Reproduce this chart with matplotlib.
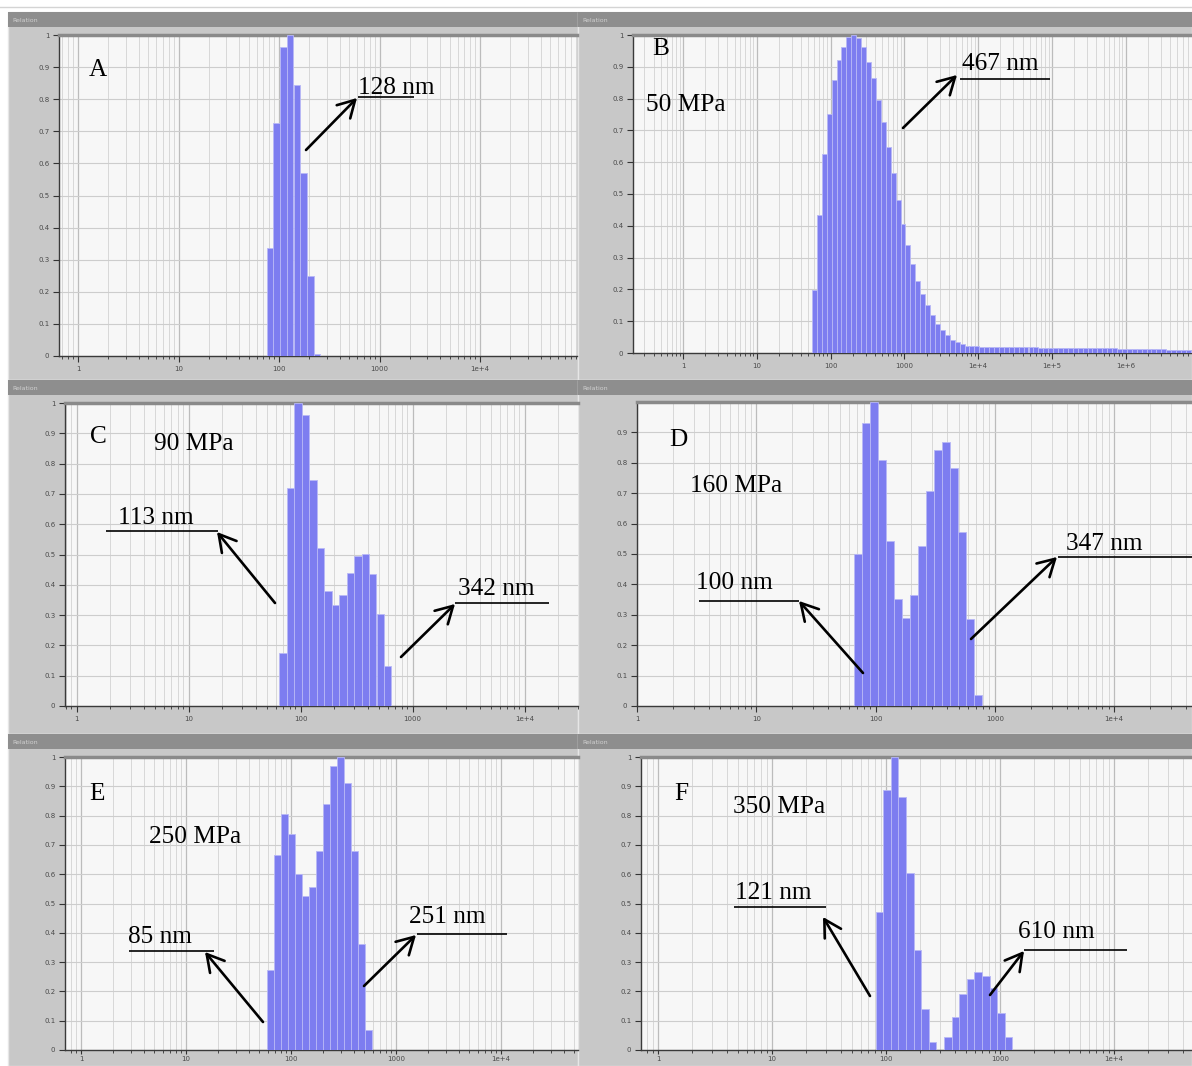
import numpy as np
import matplotlib
matplotlib.use('Agg')
import matplotlib.pyplot as plt
from matplotlib.patches import Rectangle
from matplotlib.ticker import FixedLocator, FuncFormatter, NullFormatter

# ---------------- data (bin centre size in nm, relative intensity) ----------------
size_A = [81.5, 95.1, 110.9, 129.1, 150.7, 175.8, 204.6, 238.8]
int_A = [0.335, 0.725, 0.964, 1.0, 0.844, 0.569, 0.249, 0.005]

size_B = [60.4, 70.5, 82.2, 95.7, 111.7, 130.3, 151.7, 177.0, 206.5, 240.4,
          280.5, 327.3, 381.1, 444.6, 518.8, 604, 705, 822, 957, 1117,
          1303, 1517, 1770, 2065, 2404, 2805, 3273, 3811, 4446, 5188,
          6040, 7047, 8222, 9572, 11170, 13030, 15170, 17700, 20650, 24040,
          28050, 32730, 38110, 44460, 51880, 60400, 70470, 82220, 95720, 111700,
          130300, 151700, 177000, 206500, 240400, 280500, 327300, 381100, 444600, 518800,
          604000, 704700, 822200, 957200, 1117000, 1303000, 1517000, 1770000, 2065000, 2404000,
          2805000, 3273000, 3811000, 4446000, 5188000, 6040000, 7047000, 8222000]
int_B = [0.197, 0.433, 0.627, 0.753, 0.858, 0.921, 0.963, 0.993, 1.0, 0.99,
         0.963, 0.916, 0.864, 0.795, 0.727, 0.648, 0.565, 0.48, 0.407, 0.339,
         0.281, 0.227, 0.187, 0.15, 0.119, 0.092, 0.071, 0.056, 0.042, 0.034,
         0.027, 0.023, 0.021, 0.021, 0.020, 0.020, 0.020, 0.019, 0.019, 0.019,
         0.019, 0.018, 0.018, 0.018, 0.018, 0.018, 0.017, 0.017, 0.017, 0.017,
         0.017, 0.016, 0.016, 0.016, 0.016, 0.016, 0.016, 0.015, 0.015, 0.015,
         0.015, 0.015, 0.014, 0.014, 0.014, 0.014, 0.013, 0.013, 0.013, 0.012,
         0.012, 0.012, 0.011, 0.011, 0.011, 0.010, 0.010, 0.010]

size_C = [70.0, 81.7, 95.3, 110.9, 129.4, 151.0, 175.8, 205.1, 239.3, 278.6,
          325.1, 379.3, 441.6, 515.2, 601.2]
int_C = [0.176, 0.718, 1.0, 0.962, 0.745, 0.523, 0.379, 0.332, 0.367, 0.44,
         0.496, 0.503, 0.437, 0.302, 0.132]

size_D = [71.8, 83.8, 97.7, 113.8, 132.7, 154.9, 180.3, 210.4, 245.5, 285.8,
          333.4, 389.0, 452.9, 528.4, 616.6, 717.8]
int_D = [0.5, 0.93, 1.0, 0.81, 0.544, 0.352, 0.291, 0.366, 0.527, 0.706,
         0.841, 0.87, 0.783, 0.572, 0.285, 0.036]

size_E = [63.7, 74.3, 86.7, 100.9, 117.8, 137.4, 160.0, 186.6, 217.8, 253.5,
          295.8, 345.1, 401.8, 468.8, 547.0]
int_E = [0.273, 0.665, 0.805, 0.736, 0.60, 0.526, 0.557, 0.68, 0.839, 0.969,
         1.0, 0.911, 0.68, 0.361, 0.068]

size_F = [87.5, 102.1, 119.1, 138.7, 161.8, 188.8, 219.8, 256.4, 299.2, 348.3,
          406.4, 474.2, 552.1, 644.2, 751.6, 875.0, 1020.9, 1191.2]
int_F = [0.47, 0.887, 1.0, 0.864, 0.603, 0.34, 0.14, 0.028, 0.0, 0.045,
         0.113, 0.19, 0.244, 0.265, 0.254, 0.21, 0.125, 0.045]

y_ticks = [0, 0.1, 0.2, 0.3, 0.4, 0.5, 0.6, 0.7, 0.8, 0.9, 1.0]
decades = [1, 10, 100, 1000, 1e4, 1e5, 1e6, 1e7]

# ---------------- figure ----------------
W, H = 1192, 1066
fig = plt.figure(figsize=(W / 100, H / 100), dpi=100)
fig.patch.set_facecolor('white')

under = fig.add_axes([0, 0, 1, 1], zorder=0)
under.set_xlim(0, W)
under.set_ylim(H, 0)
under.axis('off')
under.plot([0, W], [7, 7], color='#d4d4d4', lw=1)

rows = [(12, 380), (380, 734), (734, 1066)]
cols = [(8, 578), (578, 1192)]
for (ya, yb) in rows:
    for (xa, xb) in cols:
        under.add_patch(Rectangle((xa, ya), xb - xa, yb - ya, facecolor='#c8c8c8',
                                  edgecolor='#e6e6e6', lw=1))
        under.add_patch(Rectangle((xa, ya), xb - xa, 15, facecolor='#8e8e8e',
                                  edgecolor='none'))
        under.text(xa + 4, ya + 8, 'Relation', fontsize=4.5, color='#d0d0d0',
                   va='center', ha='left')


def fmt_x(v, pos):
    if v < 1e4:
        return '%d' % round(v)
    return '1e+%d' % round(np.log10(v))


def fmt_y(v, pos):
    if abs(v) < 1e-9:
        return '0'
    if abs(v - 1) < 1e-9:
        return '1'
    return '%.1f' % v


def panel(box, p1, dec, sizes, vals, yt_list, xpad=3, xlen=4):
    x0, x1, yt, yb = box
    ax = fig.add_axes([x0 / W, 1 - yb / H, (x1 - x0) / W, (yb - yt) / H], zorder=1)
    ax.set_xscale('log')
    ax.set_xlim(10 ** ((x0 - p1) / dec), 10 ** ((x1 - p1) / dec))
    ax.set_ylim(0, 1)
    ax.set_facecolor('#f7f7f7')
    r = 10 ** (1 / 30)
    s = np.array(sizes, float)
    v = np.array(vals, float)
    lefts = s / r
    ax.bar(lefts, v, width=s * r - lefts, align='edge', color='#7d7df0',
           edgecolor='#b8b8f6', linewidth=0.6, zorder=3)
    ax.xaxis.set_major_locator(FixedLocator(decades))
    ax.xaxis.set_major_formatter(FuncFormatter(fmt_x))
    minors = [m * d for d in [0.1] + decades for m in range(2, 10)]
    ax.xaxis.set_minor_locator(FixedLocator(minors))
    ax.xaxis.set_minor_formatter(NullFormatter())
    ax.yaxis.set_major_locator(FixedLocator(yt_list))
    ax.yaxis.set_major_formatter(FuncFormatter(fmt_y))
    ax.grid(which='major', axis='x', color='#bcbcbc', lw=0.9)
    ax.grid(which='minor', axis='x', color='#d8d8d8', lw=0.7)
    ax.grid(which='major', axis='y', color='#cdcdcd', lw=0.8)
    ax.axhline(1.0, color='#cdcdcd', lw=0.8, zorder=0)
    ax.set_axisbelow(True)
    ax.tick_params(axis='both', which='major', labelsize=5, labelcolor='#4a4a4a',
                   color='#333333', length=4, width=0.8, direction='out', pad=3)
    ax.tick_params(axis='x', which='major', pad=xpad, length=xlen)
    ax.tick_params(axis='x', which='minor', color='#333333', length=2.5, width=0.6,
                   direction='out')
    for side in ('left', 'bottom'):
        ax.spines[side].set_color('#3a3a3a')
        ax.spines[side].set_linewidth(1.0)
    ax.spines['right'].set_visible(False)
    ax.spines['top'].set_color('#8a8a8a')
    ax.spines['top'].set_linewidth(2.5)
    return ax


panel((59, 577, 35, 356), 78, 100.5, size_A, int_A, y_ticks)
panel((633, 1192, 35, 353), 683, 73.8, size_B, int_B, y_ticks)
panel((65, 578, 403, 706), 76.5, 112, size_C, int_C, y_ticks)
panel((637, 1192, 402, 706), 637, 119.25, size_D, int_D, y_ticks[:-1])
panel((65, 578, 757, 1050), 81, 105, size_E, int_E, y_ticks, xpad=1, xlen=3)
panel((641, 1192, 757, 1050), 658, 114, size_F, int_F, y_ticks, xpad=1, xlen=3)

# ---------------- annotations (pixel coordinates) ----------------
ov = fig.add_axes([0, 0, 1, 1], zorder=3)
ov.set_xlim(0, W)
ov.set_ylim(H, 0)
ov.axis('off')
ov.patch.set_alpha(0)

serif = ['Liberation Serif', 'DejaVu Serif']
FS = 18.2


def label(x, y, s):
    ov.text(x, y, s, fontsize=FS, family=serif, ha='left', va='baseline', color='black')


def pointer(text_xy, s, line_x, line_y, tail, head):
    label(text_xy[0], text_xy[1], s)
    ov.plot(line_x, [line_y, line_y], color='black', lw=1.2, solid_capstyle='butt')
    ov.annotate('', xy=head, xytext=tail,
                arrowprops=dict(arrowstyle='->,head_length=0.6,head_width=0.34',
                                lw=1.9, color='black', mutation_scale=20,
                                shrinkA=0, shrinkB=0))


# A
label(89, 76, 'A')
pointer((358, 94), '128 nm', (358, 414), 97, (306, 150), (357, 98))
# B
label(652, 55, 'B')
label(646, 111, '50 MPa')
pointer((962, 70), '467 nm', (960, 1050), 79, (903, 128), (957, 75))
# C
label(90, 443, 'C')
label(154, 450, '90 MPa')
pointer((118, 524), '113 nm', (106, 218), 531, (275, 603), (217, 532))
pointer((458, 595), '342 nm', (455, 549), 603, (401, 657), (455, 604))
# D
label(669, 446, 'D')
label(690, 492, '160 MPa')
pointer((696, 589), '100 nm', (699, 799), 601, (863, 673), (799, 601))
pointer((1066, 550), '347 nm', (1058, 1192), 557, (971, 639), (1057, 557))
# E
label(89, 800, 'E')
label(149, 843, '250 MPa')
pointer((128, 943), '85 nm', (129, 214), 951, (263, 1022), (205, 952))
pointer((409, 923), '251 nm', (417, 507), 934, (364, 986), (416, 935))
# F
label(674, 800, 'F')
label(733, 813, '350 MPa')
pointer((735, 899), '121 nm', (734, 826), 907, (870, 996), (823, 917))
pointer((1018, 938), '610 nm', (1024, 1127), 950, (990, 995), (1024, 951))

fig.savefig('out.png', dpi=100, facecolor='white')
